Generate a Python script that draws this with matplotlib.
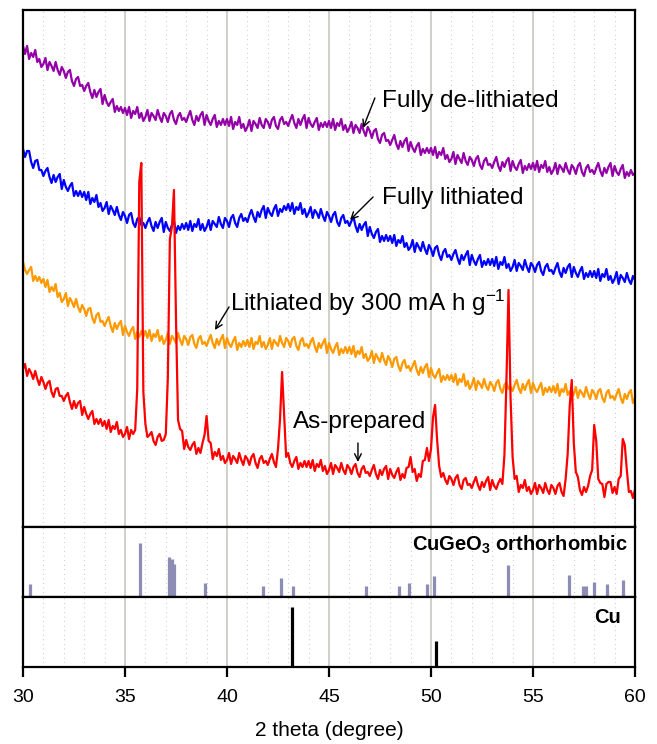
#!/usr/bin/env python3

import matplotlib
from matplotlib import pyplot as plt
import numpy as np

matplotlib.use("Agg")

# Plot parameters
params = {
    "font.family": ["Liberation Sans", "DejaVu Sans"],
    "mathtext.default": "regular",
    "font.size": 12,
    "xtick.labelsize": 14,
    "axes.linewidth": 1.6,
    "xtick.major.width": 1.6,
    "xtick.direction": "out",
}
matplotlib.rcParams.update(params)

# 2 theta grid of the measured patterns (0.1 degree steps, 30 - 60)
two_theta = np.round(np.arange(300, 601) * 0.1, 1)

# intensities, arbitrary units (already offset for stacking)
delithiated = [
    481, 473, 481, 468, 474, 470, 477, 465, 468, 460,
    463, 469, 457, 465, 461, 456, 465, 457, 452, 460,
    456, 449, 455, 457, 446, 441, 448, 450, 441, 442,
    436, 441, 444, 435, 429, 437, 430, 435, 438, 423,
    432, 425, 421, 425, 428, 415, 421, 416, 420, 414,
    419, 412, 420, 409, 416, 413, 420, 409, 414, 406,
    410, 417, 406, 414, 411, 407, 417, 410, 405, 414,
    411, 405, 413, 416, 407, 403, 411, 414, 407, 409,
    405, 411, 416, 407, 402, 411, 406, 412, 415, 402,
    412, 406, 402, 408, 412, 400, 406, 402, 408, 402,
    408, 401, 410, 398, 405, 402, 410, 399, 403, 396,
    400, 407, 396, 406, 403, 399, 409, 402, 399, 408,
    405, 399, 407, 410, 401, 398, 407, 410, 403, 405,
    401, 407, 412, 404, 399, 408, 402, 408, 412, 399,
    409, 403, 400, 405, 409, 397, 404, 400, 405, 400,
    406, 399, 408, 397, 404, 401, 408, 397, 402, 395,
    399, 405, 394, 402, 399, 394, 403, 396, 391, 400,
    396, 389, 396, 398, 388, 384, 392, 394, 386, 387,
    382, 387, 392, 383, 378, 386, 380, 386, 389, 376,
    385, 379, 375, 381, 384, 372, 378, 374, 379, 374,
    379, 372, 380, 369, 375, 372, 379, 368, 372, 365,
    368, 375, 363, 372, 368, 364, 374, 366, 362, 370,
    367, 361, 368, 371, 362, 358, 366, 369, 362, 363,
    359, 365, 370, 361, 356, 365, 360, 366, 369, 356,
    366, 360, 357, 363, 367, 354, 361, 357, 363, 358,
    364, 357, 366, 355, 362, 359, 366, 355, 360, 353,
    357, 364, 353, 362, 359, 355, 364, 357, 353, 362,
    359, 353, 361, 364, 355, 351, 359, 362, 355, 357,
    353, 359, 364, 356, 351, 359, 354, 360, 364, 351,
    361, 355, 352, 358, 362, 349, 355, 351, 357, 352,
    354,
]

lithiated = [
    378, 370, 376, 376, 365, 359, 366, 367, 357, 357,
    351, 356, 359, 350, 344, 352, 345, 350, 353, 338,
    347, 340, 336, 341, 344, 331, 336, 331, 336, 330,
    335, 327, 335, 323, 329, 325, 332, 320, 324, 316,
    319, 325, 313, 321, 317, 312, 320, 312, 307, 315,
    311, 304, 312, 314, 304, 300, 308, 310, 302, 304,
    299, 305, 309, 301, 296, 305, 299, 305, 309, 295,
    305, 299, 296, 302, 306, 294, 301, 297, 303, 298,
    304, 297, 306, 296, 303, 300, 308, 297, 303, 296,
    300, 307, 297, 306, 303, 300, 310, 303, 299, 309,
    306, 300, 309, 312, 304, 300, 309, 313, 306, 309,
    305, 312, 317, 310, 305, 315, 310, 317, 321, 309,
    319, 314, 311, 318, 322, 311, 318, 315, 321, 317,
    323, 316, 324, 313, 320, 317, 324, 313, 318, 310,
    314, 320, 309, 317, 314, 309, 318, 311, 306, 315,
    311, 305, 312, 315, 305, 301, 309, 312, 304, 306,
    301, 306, 310, 301, 295, 303, 297, 302, 305, 291,
    300, 293, 289, 295, 298, 285, 291, 286, 292, 286,
    291, 284, 292, 281, 287, 284, 291, 280, 284, 277,
    280, 287, 275, 284, 280, 276, 285, 278, 273, 282,
    278, 271, 279, 281, 272, 267, 275, 278, 270, 272,
    267, 273, 277, 269, 263, 272, 267, 272, 276, 262,
    272, 266, 262, 268, 272, 260, 266, 262, 268, 262,
    268, 261, 270, 258, 265, 262, 270, 259, 263, 256,
    260, 267, 256, 264, 261, 257, 267, 260, 255, 264,
    261, 255, 262, 265, 256, 252, 260, 263, 256, 257,
    253, 259, 264, 255, 250, 259, 254, 260, 263, 250,
    260, 254, 250, 256, 260, 248, 254, 250, 256, 250,
    256, 249, 258, 246, 253, 250, 258, 247, 251, 244,
    248, 255, 243, 252, 249, 245, 254, 247, 243, 251,
    247,
]

lithiated_300 = [
    265, 257, 253, 257, 260, 246, 251, 246, 250, 244,
    248, 240, 247, 235, 240, 236, 243, 230, 234, 225,
    228, 234, 221, 229, 225, 220, 228, 220, 215, 222,
    218, 211, 218, 219, 209, 204, 212, 214, 205, 206,
    201, 206, 210, 201, 195, 204, 198, 203, 206, 192,
    201, 195, 191, 197, 200, 188, 195, 190, 196, 190,
    196, 189, 197, 186, 193, 190, 197, 186, 191, 183,
    187, 194, 183, 191, 188, 184, 194, 187, 182, 191,
    188, 182, 190, 192, 183, 179, 188, 191, 183, 185,
    181, 187, 192, 184, 179, 188, 182, 188, 192, 179,
    189, 183, 180, 186, 190, 177, 184, 180, 186, 181,
    187, 180, 189, 178, 185, 183, 191, 180, 185, 178,
    182, 189, 178, 187, 184, 181, 191, 184, 180, 189,
    186, 180, 188, 190, 181, 177, 186, 189, 181, 183,
    179, 185, 189, 181, 175, 184, 179, 184, 188, 174,
    184, 178, 174, 180, 184, 172, 178, 174, 180, 174,
    180, 173, 181, 170, 176, 173, 180, 169, 173, 166,
    169, 176, 164, 173, 169, 165, 174, 167, 162, 171,
    167, 160, 168, 170, 161, 156, 164, 167, 159, 161,
    156, 161, 166, 157, 152, 160, 154, 160, 163, 150,
    159, 152, 149, 154, 158, 145, 151, 147, 152, 147,
    152, 145, 153, 142, 148, 145, 153, 141, 146, 138,
    142, 149, 137, 146, 143, 139, 148, 141, 137, 145,
    142, 136, 144, 147, 138, 134, 142, 145, 138, 140,
    136, 142, 147, 139, 134, 143, 137, 143, 147, 134,
    144, 138, 135, 140, 144, 132, 139, 135, 140, 135,
    141, 134, 143, 131, 138, 135, 143, 132, 136, 129,
    133, 140, 129, 137, 134, 130, 140, 133, 128, 137,
    134, 128, 136, 138, 129, 125, 134, 137, 129, 131,
    127, 133, 138, 129, 124, 133, 128, 134, 137, 124,
    129,
]

as_prepared = [
    158, 163, 151, 158, 154, 148, 156, 148, 142, 150,
    145, 138, 144, 146, 135, 130, 138, 139, 131, 131,
    126, 131, 134, 125, 118, 126, 119, 124, 126, 112,
    120, 113, 108, 113, 116, 103, 108, 103, 108, 101,
    106, 98, 107, 95, 101, 98, 105, 93, 97, 90,
    93, 100, 88, 97, 93, 97, 138, 345, 364, 135,
    103, 90, 92, 95, 86, 82, 90, 93, 86, 87,
    93, 149, 288, 300, 337, 208, 107, 98, 96, 78,
    87, 80, 77, 82, 85, 73, 79, 74, 84, 92,
    111, 86, 84, 68, 75, 71, 78, 67, 71, 64,
    67, 74, 63, 71, 68, 64, 74, 67, 62, 71,
    68, 62, 70, 73, 64, 59, 68, 71, 64, 66,
    62, 68, 73, 65, 60, 78, 108, 155, 113, 70,
    74, 64, 60, 66, 70, 58, 64, 60, 66, 60,
    66, 59, 67, 56, 63, 60, 67, 56, 61, 53,
    57, 64, 53, 62, 59, 55, 64, 57, 53, 62,
    59, 53, 60, 63, 54, 50, 58, 61, 54, 55,
    51, 57, 62, 53, 48, 57, 52, 58, 61, 48,
    58, 52, 49, 55, 59, 47, 53, 49, 59, 60,
    70, 55, 58, 46, 53, 50, 66, 67, 79, 66,
    78, 110, 122, 87, 61, 50, 54, 47, 43, 51,
    48, 42, 49, 52, 42, 38, 47, 49, 42, 43,
    39, 45, 50, 42, 37, 45, 40, 46, 50, 37,
    47, 41, 38, 44, 48, 43, 72, 148, 237, 129,
    70, 48, 51, 35, 42, 39, 47, 36, 40, 33,
    37, 44, 33, 42, 39, 34, 44, 37, 33, 42,
    39, 33, 41, 44, 35, 31, 48, 73, 121, 147,
    84, 55, 50, 37, 32, 40, 35, 41, 51, 57,
    102, 86, 48, 44, 43, 30, 43, 45, 45, 34,
    40, 33, 48, 51, 88, 82, 57, 35, 36, 29,
    37,
]

# reference patterns (relative intensity, %)
cugeo3_pos = [30.34, 35.75, 37.16, 37.30, 37.42, 38.94, 41.78, 42.63, 43.25,
              46.80, 48.45, 48.91, 49.79, 50.13, 53.76, 56.78, 57.47, 57.61,
              57.97, 58.61, 59.40]
cugeo3_int = [19, 77, 57, 54, 47, 20, 16, 27, 16,
              16, 16, 20, 19, 30, 46, 31, 16, 16,
              21, 19, 24]
cu_pos = [43.17, 50.26]
cu_int = [86, 37]

curves = [
    (delithiated, "#9400a8"),
    (lithiated, "#0000ff"),
    (lithiated_300, "#ff9900"),
    (as_prepared, "#ff0000"),
]


fig = plt.figure(figsize=(6.57, 7.44), dpi=100)
ax1 = fig.add_axes([0.035, 0.2917, 0.9315, 0.6949])
ax2 = fig.add_axes([0.035, 0.1976, 0.9315, 0.0941], sharex=ax1)
ax3 = fig.add_axes([0.035, 0.1035, 0.9315, 0.0941], sharex=ax1)

for data, color in curves:
    ax1.plot(two_theta, data, c=color, lw=1.6)

ax2.vlines(cugeo3_pos, 0, cugeo3_int, colors="#8c8cb4", lw=2.3)
ax3.vlines(cu_pos, 0, cu_int, colors="black", lw=2.3)

# grid: solid every 5 degrees, dotted every degree
for ax in [ax1, ax2, ax3]:
    for x in range(31, 60):
        if x % 5 == 0:
            ax.axvline(x, c="#cdcdc6", lw=1.3, zorder=0)
        else:
            ax.axvline(x, c="#b5b5b5", lw=0.8, ls=(0, (0.6, 3.5)), zorder=0)
    ax.set_xlim(30, 60)
    ax.set_yticks([])
    for sp in ax.spines.values():
        sp.set_color("black")

ax1.set_ylim(0, 517)
ax2.set_ylim(0, 100)
ax3.set_ylim(0, 100)

for ax in [ax1, ax2]:
    ax.tick_params(axis="x", bottom=False, labelbottom=False)

ax3.set_xticks([30, 35, 40, 45, 50, 55, 60])
ax3.tick_params(axis="x", length=7, pad=9)
ax3.set_xlabel("2 theta (degree)", fontsize=15, labelpad=11)

ax2.text(0.988, 0.657, "CuGeO$_3$ orthorhombic", transform=ax2.transAxes,
         ha="right", va="baseline", fontsize=14.5, fontweight="bold")
ax3.text(0.977, 0.629, "Cu", transform=ax3.transAxes,
         ha="right", va="baseline", fontsize=14.5, fontweight="bold")

# labels with arrows
arrow = dict(arrowstyle="->", color="black", lw=1.0, shrinkA=0, shrinkB=0)
ax1.text(47.6, 420, "Fully de-lithiated", fontsize=17.5, va="baseline")
ax1.annotate("", xy=(46.67, 399), xytext=(47.25, 429), arrowprops=arrow)
ax1.text(47.6, 323, "Fully lithiated", fontsize=17.5, va="baseline")
ax1.annotate("", xy=(46.03, 307), xytext=(47.16, 330), arrowprops=arrow)
ax1.text(40.15, 216, "Lithiated by 300 mA h g$^{-1}$", fontsize=17.5,
         va="baseline")
ax1.annotate("", xy=(39.41, 197), xytext=(40.1, 220), arrowprops=arrow)
ax1.text(43.24, 99, "As-prepared", fontsize=17.5, va="baseline")
ax1.annotate("", xy=(46.42, 65), xytext=(46.42, 84), arrowprops=arrow)

plt.savefig("out.png", dpi=100)
